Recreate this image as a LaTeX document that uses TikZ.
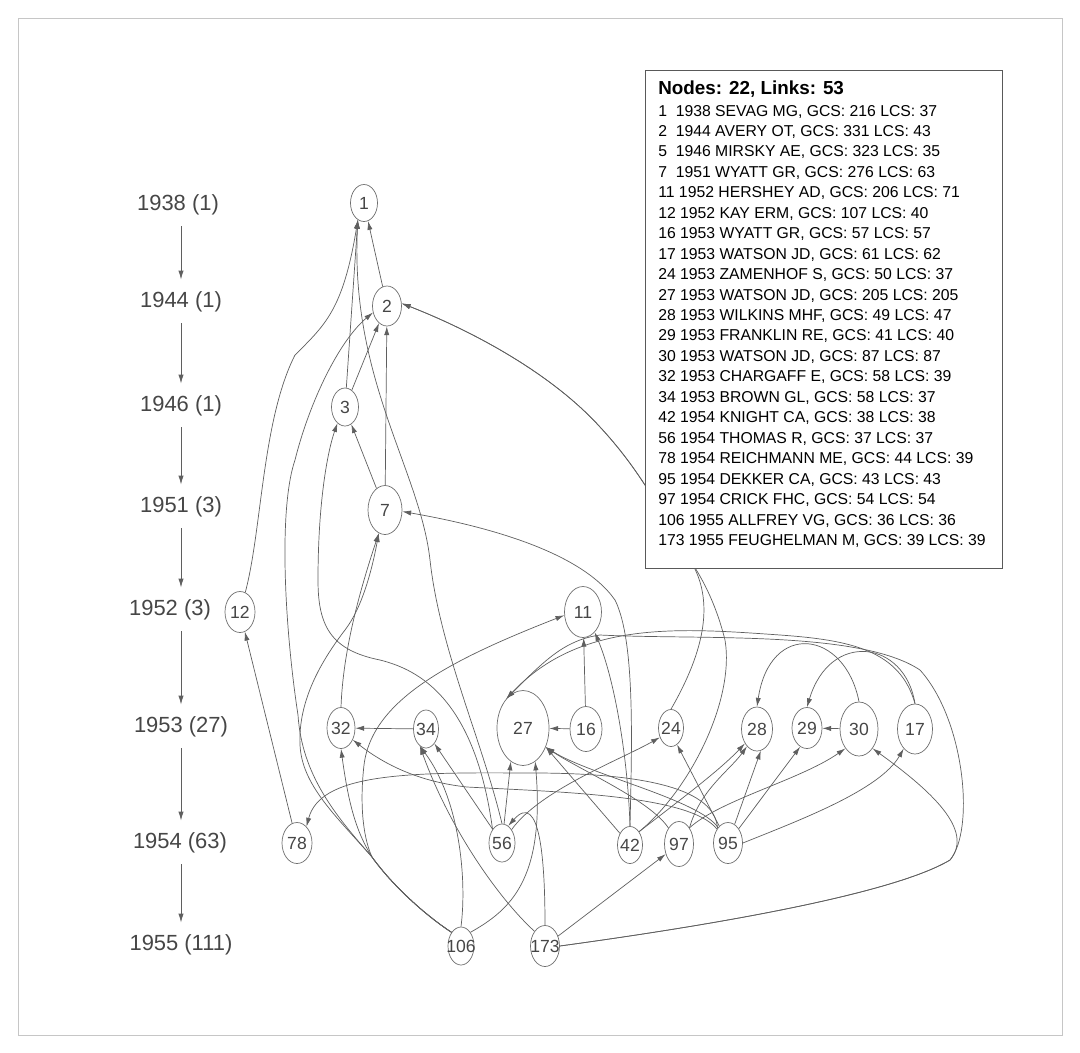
\documentclass[tikz,border=0pt]{standalone}
\usepackage{fontspec}
\setmainfont{Liberation Sans}
\usetikzlibrary{arrows.meta, shapes.geometric, positioning}

\definecolor{linkgray}{RGB}{95,95,95}
\definecolor{rimgray}{RGB}{110,110,110}
\definecolor{textgray}{RGB}{70,70,70}

\begin{document}
\begin{tikzpicture}[x=0.025cm, y=-0.025cm,
    paper/.style={ellipse, draw=rimgray, line width=0.5pt, inner sep=0pt, text=textgray,
      font=\fontsize{12.5}{14}\selectfont},
    cite/.style={-{Latex[length=2.2mm,width=1.3mm]}, linkgray, line width=0.5pt},
    year/.style={inner sep=0pt, text=textgray, font=\fontsize{15.6}{18}\selectfont},
    yearstep/.style={-{Latex[length=2.2mm,width=1.3mm]}, linkgray, line width=0.5pt,
      shorten <=0.27cm, shorten >=0.3cm},
    legline/.style={anchor=base west, inner sep=0pt, font=\fontsize{11.2}{13}\selectfont}]

\useasboundingbox (0,0) rectangle (1080,1053);
\draw[gray!45] (18,18) rectangle (1062,1035);

% Year axis
\foreach \yr/\yx/\yy [count=\i] in {{1938 (1)}/178/205, {1944 (1)}/181/302, {1946 (1)}/181/406,
    {1951 (3)}/181/507, {1952 (3)}/170/610, {1953 (27)}/181/727, {1954 (63)}/180/843, {1955 (111)}/181/945} {
  \node[year] (y\i) at (\yx,\yy) {\yr};
}
\coordinate (axis) at (181,0);
\foreach \i in {1,...,7} {
  \pgfmathtruncatemacro{\j}{\i+1}
  \draw[yearstep] (y\i.south -| axis) -- (y\j.north -| axis);
}

% Papers (id/x/y/width/height)
\foreach \id/\x/\y/\w/\h in {1/364/203/27/37, 2/387/306/29/40, 3/345/407/27/38, 7/385/510/34/49,
    12/240/612/30/41, 11/583/612/37/51, 32/341/728/28/41, 34/426/729/25/38, 27/523/728/52/75,
    16/586/729/32/45, 24/671/728/25/37, 28/757/729/31/44, 29/807/728/30/41, 30/859/729/38/54,
    17/915/729/35/50, 78/297/843/30/41, 56/502/843/26/38, 42/630/845/25/37, 97/679/844/29/45,
    95/728/843/29/41, 106/461/946/26/38, 173/545/946/29/41} {
  \node[paper, minimum width=\w*0.025cm, minimum height=\h*0.025cm] (n\id) at (\x,\y) {\makebox[0pt]{\id}};
}
\coordinate (fork) at (372,857);

% Links into the early papers
\draw[cite] (n2) -- (n1);
\draw[cite] (n3) -- (n1.250);
\draw[cite] (n12) .. controls (262,530) and (262,420) .. (295,355) .. controls (325,325) and (343,310) .. (n1.250);
\draw[cite] (n56.north) .. controls (482,740) and (440,650) .. (430,560) .. controls (420,470) and (350,380) .. (n1.250);
\draw[cite] (n3) -- (n2.245);
\draw[cite] (n7) -- (n2);
\draw[cite] (n106.north west) .. controls (425,915) and (392,885) .. (fork) .. controls (335,815) and (302,775) .. (298,715) .. controls (285,630) and (278,510) .. (295,460) .. controls (310,400) and (340,340) .. (n2.205);
\draw[cite] (n24.north) .. controls (705,650) and (715,600) .. (690,560) .. controls (660,510) and (640,470) .. (600,427) .. controls (550,372) and (470,330) .. (n2.10);
\draw[cite] (n42.north east) .. controls (690,790) and (735,700) .. (725,640) .. controls (715,600) and (700,575) .. (690,560) .. controls (660,510) and (640,470) .. (600,427) .. controls (550,372) and (470,330) .. (n2.10);
\draw[cite] (n7) -- (n3.290);
\draw[cite] (n56.north west) .. controls (475,700) and (420,670) .. (380,660) .. controls (330,650) and (318,625) .. (318,580) .. controls (318,500) and (328,450) .. (n3.245);
\draw[cite] (n32.north) .. controls (343,650) and (360,590) .. (n7.255);
\draw[cite] (n106.north west) .. controls (425,915) and (392,885) .. (fork) .. controls (335,815) and (302,785) .. (300,745) .. controls (298,700) and (322,660) .. (345,630) .. controls (362,608) and (372,570) .. (n7.255);
\draw[cite] (n42.north) .. controls (632,740) and (635,640) .. (615,600) .. controls (580,550) and (480,525) .. (n7.355);
\draw[cite] (n78) -- (n12);

% Links into 1952-1953
\draw[cite] (n16) -- (n11);
\draw[cite] (n42.north) .. controls (628,760) and (615,680) .. (n11.300);
\draw[cite] (n106.north west) .. controls (425,915) and (392,885) .. (fork) .. controls (362,835) and (360,800) .. (364,765) .. controls (372,700) and (450,660) .. (n11.190);
\draw[cite] (n34) -- (n32);
\draw[cite] (n106.north west) .. controls (425,915) and (392,885) .. (fork) .. controls (355,830) and (348,800) .. (n32.south);
\draw[cite] (n95) .. controls (690,795) and (560,792) .. (467,787) .. controls (420,782) and (385,765) .. (n32.315);
\draw[cite] (n56) -- (n34.300);
\draw[cite] (n106.north) .. controls (467,880) and (460,800) .. (n34.250);
\draw[cite] (n173.north west) .. controls (500,900) and (450,830) .. (n34.250);
\draw[cite] (n16) -- (n27);
\draw[cite] (n56) -- (n27.250);
\draw[cite] (n106.north east) .. controls (510,910) and (545,880) .. (n27.290);
\draw[cite] (n42) -- (n27.320);
\draw[cite] (n97) .. controls (650,800) and (580,770) .. (n27.320);
\draw[cite] (n95) .. controls (700,800) and (590,775) .. (n27.320);
\draw[cite] (n17.north) .. controls (900,650) and (850,640) .. (780,635) .. controls (680,628) and (580,620) .. (n27.120);
\draw[cite] (n173.east) .. controls (750,920) and (900,890) .. (950,860) .. controls (975,830) and (965,720) .. (920,670) .. controls (860,630) and (700,640) .. (600,635) .. controls (565,640) and (545,660) .. (n27.120);
\draw[cite] (n56) .. controls (540,790) and (620,760) .. (n24.220);
\draw[cite] (n95) -- (n24.290);
\draw[cite] (n30.north) .. controls (845,630) and (770,620) .. (n28.north);
\draw[cite] (n42.north east) .. controls (680,800) and (720,770) .. (n28.230);
\draw[cite] (n97.north east) .. controls (700,790) and (730,770) .. (n28.240);
\draw[cite] (n95) -- (n28.280);
\draw[cite] (n17.north) .. controls (905,640) and (830,630) .. (n29.north);
\draw[cite] (n30) -- (n29);
\draw[cite] (n95) -- (n29.250);
\draw[cite] (n97.north east) .. controls (720,800) and (800,780) .. (n30.235);
\draw[cite] (n173.east) .. controls (750,920) and (900,890) .. (950,860) .. controls (975,830) and (930,790) .. (n30.305);
\draw[cite] (n95.east) .. controls (800,820) and (880,790) .. (n17.240);
\draw[cite] (n95.north west) .. controls (715,790) and (650,772) .. (520,773) .. controls (400,772) and (320,775) .. (n78.60);
\draw[cite] (n173.north) .. controls (545,860) and (540,790) .. (n56.70);
\draw[cite] (n173) -- (n97);

% Legend
\filldraw[draw=gray!70!black, fill=white] (645,70) rectangle (1002,568);
\node[legline, font=\bfseries\fontsize{13.4}{15}\selectfont] (title) at (658,94) {Nodes: 22, Links: 53};
\foreach \t [count=\i] in {{1~~1938 SEVAG MG, GCS: 216 LCS: 37}, {2~~1944 AVERY OT, GCS: 331 LCS: 43},
    {5~~1946 MIRSKY AE, GCS: 323 LCS: 35}, {7~~1951 WYATT GR, GCS: 276 LCS: 63},
    {11 1952 HERSHEY AD, GCS: 206 LCS: 71}, {12 1952 KAY ERM, GCS: 107 LCS: 40},
    {16 1953 WYATT GR, GCS: 57 LCS: 57}, {17 1953 WATSON JD, GCS: 61 LCS: 62},
    {24 1953 ZAMENHOF S, GCS: 50 LCS: 37}, {27 1953 WATSON JD, GCS: 205 LCS: 205},
    {28 1953 WILKINS MHF, GCS: 49 LCS: 47}, {29 1953 FRANKLIN RE, GCS: 41 LCS: 40},
    {30 1953 WATSON JD, GCS: 87 LCS: 87}, {32 1953 CHARGAFF E, GCS: 58 LCS: 39},
    {34 1953 BROWN GL, GCS: 58 LCS: 37}, {42 1954 KNIGHT CA, GCS: 38 LCS: 38},
    {56 1954 THOMAS R, GCS: 37 LCS: 37}, {78 1954 REICHMANN ME, GCS: 44 LCS: 39},
    {95 1954 DEKKER CA, GCS: 43 LCS: 43}, {97 1954 CRICK FHC, GCS: 54 LCS: 54},
    {106 1955 ALLFREY VG, GCS: 36 LCS: 36}, {173 1955 FEUGHELMAN M, GCS: 39 LCS: 39}} {
  \pgfmathsetmacro{\ly}{116+20.45*(\i-1)}
  \node[legline] (line\i) at (658,\ly) {\t};
}
\end{tikzpicture}
\end{document}
